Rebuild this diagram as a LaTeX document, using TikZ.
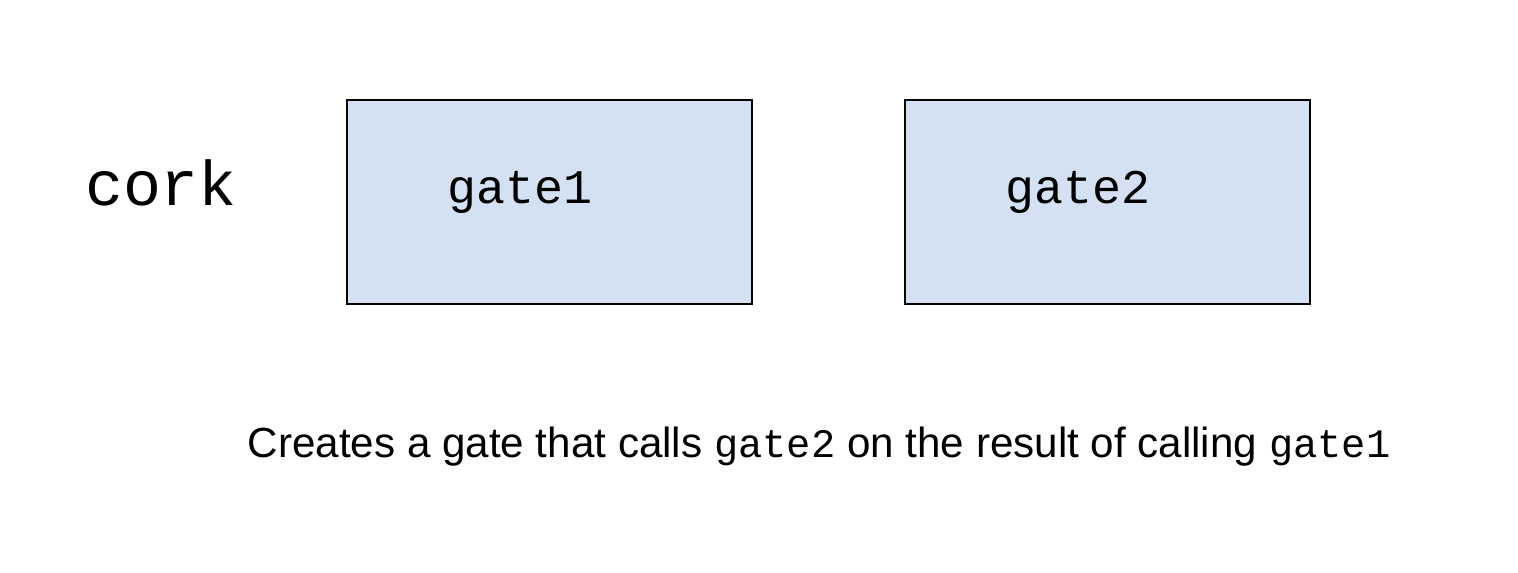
\documentclass[tikz,border=0pt]{standalone}
\usepackage{fontspec}
\setmainfont{Liberation Sans}
\setmonofont{Liberation Mono}
\definecolor{gatefill}{HTML}{D4E1F2}

\begin{document}
\begin{tikzpicture} [x=0.02cm, y=-0.02cm,
  gatebox/.style={draw=black, fill=gatefill, line width=1.2pt},
  gatetext/.style={anchor=base, inner sep=0pt, font=\fontsize{27.5}{30}\selectfont\ttfamily}]
\useasboundingbox (0,0) rectangle (1518,572);
% the two gates
\draw[gatebox] (347,100) rectangle (752,304);
\draw[gatebox] (905,100) rectangle (1310,304);
\node[gatetext] (gate1) at (520,203) {gate1};
\node[gatetext] (gate2) at (1078,203) {gate2};
% name on the left
\node[anchor=base, inner sep=0pt, font=\fontsize{36}{40}\selectfont\ttfamily] (cork) at (161,205) {cork};
% caption
\node[anchor=base, inner sep=0pt, font=\fontsize{24}{26}\selectfont] (caption) at (819,457)
  {Creates a gate that calls {\fontsize{23}{26}\selectfont\ttfamily gate2} on the result of calling {\fontsize{23}{26}\selectfont\ttfamily gate1}};
\end{tikzpicture}
\end{document}
